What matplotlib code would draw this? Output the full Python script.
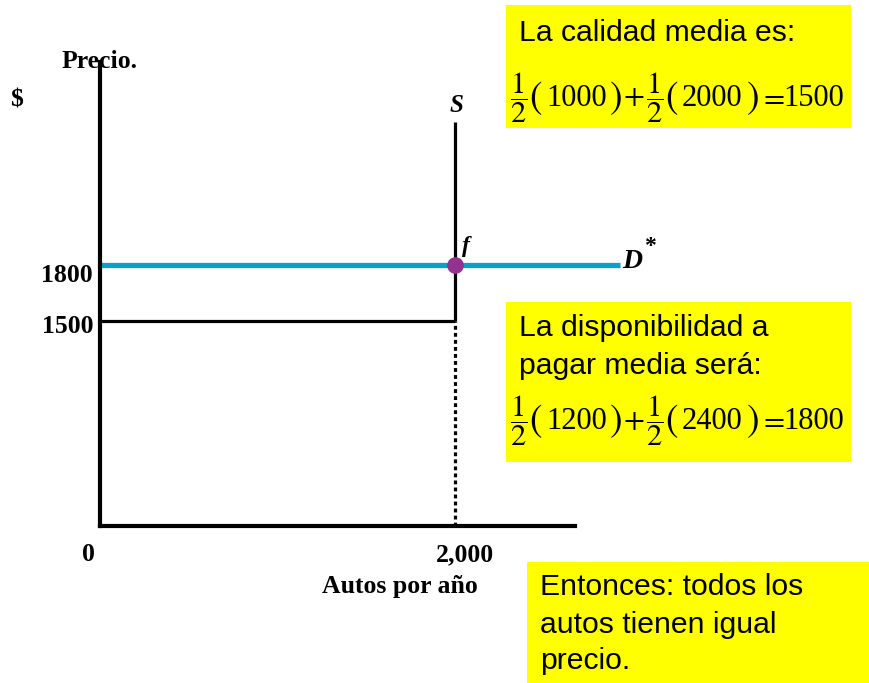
import matplotlib
matplotlib.use("Agg")
import matplotlib.pyplot as plt
from matplotlib.patches import Rectangle
from matplotlib.transforms import ScaledTranslation

# ---- data ----
q_star = 2000            # autos por año
p_mean_quality = 1500    # calidad media
p_willingness = 1800     # disponibilidad a pagar media
demand_x = [0, 2930]     # extent of D* line
supply_top = 2566        # top of S line
y_ticks = [1500, 1800]
y_ticklabels = ["1500", "1800"]
x_ticks = [0, 2000]
x_ticklabels = ["0", "2,000"]
quality_values = ["1000", "2000"]
quality_mean = "1500"
wtp_values = ["1200", "2400"]
wtp_mean = "1800"

plt.rcParams['mathtext.fontset'] = 'stix'
W, H = 870, 683
fig = plt.figure(figsize=(W/100, H/100), dpi=100)

def fx(px): return px / W
def fy(py): return 1 - py / H

ylo, yhi = 400, 2900
xlo, xhi = 0, 3000
ppu_y = 0.1867
ppu_x = 0.1775
bottom_px = 601 - ylo * ppu_y
height_px = (yhi - ylo) * ppu_y
ax = fig.add_axes([fx(100), (H - bottom_px) / H, (xhi - xlo) * ppu_x / W, height_px / H])
ax.set_xlim(xlo, xhi)
ax.set_ylim(ylo, yhi)
ax.patch.set_alpha(0)
for s in ['top', 'right']:
    ax.spines[s].set_visible(False)
ax.spines['left'].set_linewidth(3)
ax.spines['bottom'].set_linewidth(3)
ax.spines['left'].set_bounds(ylo, 2887)
ax.spines['bottom'].set_bounds(xlo, 2676)

serif_bold = dict(family='Liberation Serif', weight='bold', size=18.5)
ax.set_yticks(y_ticks)
ax.set_yticklabels(y_ticklabels, fontdict=serif_bold)
ax.set_xticks(x_ticks)
ax.set_xticklabels(x_ticklabels, fontdict=serif_bold)
ax.tick_params(axis='both', length=0)
ax.tick_params(axis='y', pad=5)
ax.tick_params(axis='x', pad=12)
yl = ax.get_yticklabels()
yl[0].set_transform(yl[0].get_transform() + ScaledTranslation(0, -0.035, fig.dpi_scale_trans))
yl[1].set_transform(yl[1].get_transform() + ScaledTranslation(0, -0.085, fig.dpi_scale_trans))
xl = ax.get_xticklabels()
xl[0].set_transform(xl[0].get_transform() + ScaledTranslation(-0.12, 0, fig.dpi_scale_trans))
xl[1].set_transform(xl[1].get_transform() + ScaledTranslation(0.10, 0, fig.dpi_scale_trans))

# lines
ax.plot([0, q_star], [p_mean_quality, p_mean_quality], color='black', lw=2.3, solid_capstyle='butt')
ax.plot([q_star, q_star], [p_mean_quality, supply_top], color='black', lw=2.3, solid_capstyle='butt')
ax.plot([q_star, q_star], [ylo, p_mean_quality], color='black', lw=2.3, ls=(0, (1.2, 1.0)))
ax.plot(demand_x, [p_willingness, p_willingness], color='#0aa0c8', lw=3.8, solid_capstyle='butt')
ax.plot([q_star], [p_willingness], 'o', color='#93328f', ms=11, zorder=5)

# labels
ital = dict(family='Liberation Serif', weight='bold', style='italic')
fig.text(fx(456), fy(105), 'S', ha='center', va='center', size=18, **ital)
ax.text(q_star + 40, p_willingness + 40, 'f', ha='left', va='bottom', size=17, **ital)
fig.text(fx(622), fy(262), 'D', ha='left', va='center', size=20, **ital)
fig.text(fx(650), fy(247), '*', ha='center', va='center', size=17,
         family='Liberation Serif', weight='bold')

fig.text(fx(62), fy(62), 'Precio.', ha='left', va='center', **serif_bold)
fig.text(fx(10), fy(100), '$', ha='left', va='center', **serif_bold)
fig.text(fx(400), fy(587), 'Autos por año', ha='center', va='center', **serif_bold)

# yellow boxes
def box(x0, y0, x1, y1):
    fig.patches.append(Rectangle((fx(x0), fy(y1)), (x1 - x0) / W, (y1 - y0) / H,
                                 transform=fig.transFigure, facecolor='#ffff00', edgecolor='none', zorder=0))

def equation(y_px, a, b, result):
    # (text, size, left x in px) – positions
    frac = r'$\dfrac{1}{2}$'
    pieces = [(frac, 22, 510), (r'$($', 27, 529), (a, 22, 546), (r'$)$', 27, 609),
              (r'$+$', 22, 623), (frac, 22, 646), (r'$($', 27, 665), (b, 22, 682),
              (r'$)$', 27, 746), (r'$=$', 22, 759), (result, 22, 783)]
    for s, size, x in pieces:
        fig.text(fx(x), fy(y_px), s, ha='left', va='center', size=size,
                 family='Liberation Serif')

sans = dict(family='Liberation Sans', size=21.7)

box(506, 5, 851, 128)
fig.text(fx(519), fy(33), 'La calidad media es:', ha='left', va='center', **sans)
equation(98, quality_values[0], quality_values[1], quality_mean)

box(506, 302, 851, 462)
fig.text(fx(519), fy(328), 'La disponibilidad a', ha='left', va='center', **sans)
fig.text(fx(519), fy(366), 'pagar media será:', ha='left', va='center', **sans)
equation(421, wtp_values[0], wtp_values[1], wtp_mean)

box(527, 562, 870, 683)
fig.text(fx(540), fy(587), 'Entonces: todos los', ha='left', va='center', **sans)
fig.text(fx(540), fy(625), 'autos tienen igual', ha='left', va='center', **sans)
fig.text(fx(540), fy(661), 'precio.', ha='left', va='center', **sans)

fig.savefig('out.png', dpi=100)
